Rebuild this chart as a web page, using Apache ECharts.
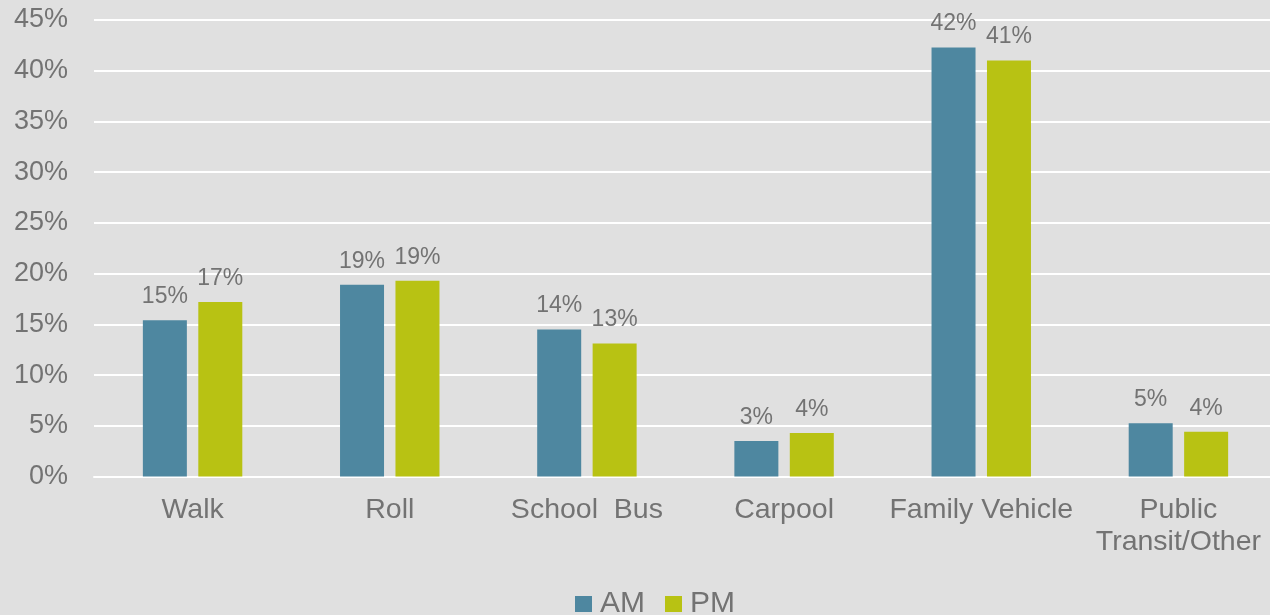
<!DOCTYPE html>
<html><head><meta charset="utf-8">
<script src="https://cdn.jsdelivr.net/npm/echarts@6/dist/echarts.min.js"></script>
<style>html,body{margin:0;padding:0;background:#e0e0e0}#c{width:1270px;height:615px}</style>
</head><body><div id="c"></div>
<script>
const categories = ['Walk', 'Roll', 'School  Bus', 'Carpool', 'Family Vehicle', 'Public\nTransit/Other'];
const amValues = [15.4, 18.9, 14.5, 3.5, 42.3, 5.25];
const pmValues = [17.2, 19.3, 13.1, 4.3, 41.0, 4.42];
const amLabels = ['15%', '19%', '14%', '3%', '42%', '5%'];
const pmLabels = ['17%', '19%', '13%', '4%', '41%', '4%'];
const yTicks = [0, 5, 10, 15, 20, 25, 30, 35, 40, 45];

const FONT = '"Liberation Sans", Arial, sans-serif';
const TXT = '#737373';
const chart = echarts.init(document.getElementById('c'), null, {renderer: 'canvas'});
chart.setOption({
  backgroundColor: '#e0e0e0',
  animation: false,
  textStyle: {fontFamily: FONT},
  grid: {left: 94, width: 1183, top: 20, bottom: 138.5, containLabel: false, outerBoundsMode: 'none'},
  legend: {
    data: ['AM', 'PM'], top: 584, left: 570,
    itemWidth: 17, itemHeight: 16, itemGap: 20,
    icon: 'rect',
    textStyle: {fontSize: 30, color: TXT, fontFamily: FONT, padding: [0, 0, 0, 3]}
  },
  xAxis: {
    type: 'category', data: categories,
    axisLine: {show: true, lineStyle: {color: '#ffffff', width: 2}},
    axisTick: {show: false},
    axisLabel: {fontSize: 28.5, color: TXT, fontFamily: FONT, margin: 18, lineHeight: 32, interval: 0}
  },
  yAxis: {
    type: 'value', min: 0, max: 45, interval: 5,
    axisLine: {show: false}, axisTick: {show: false},
    splitLine: {lineStyle: {color: '#ffffff', width: 2}},
    axisLabel: {fontSize: 27, color: TXT, fontFamily: FONT, margin: 26,
      formatter: v => yTicks.includes(v) ? v + '%' : ''}
  },
  series: [
    {name: 'AM', type: 'bar', data: amValues, barWidth: 44, barGap: '26%',
     itemStyle: {color: '#4e87a0'},
     label: {show: true, position: 'top', distance: 12, fontSize: 23, color: TXT, fontFamily: FONT,
       formatter: p => amLabels[p.dataIndex]}},
    {name: 'PM', type: 'bar', data: pmValues, barWidth: 44, barGap: '26%',
     itemStyle: {color: '#b8c213'},
     label: {show: true, position: 'top', distance: 12, fontSize: 23, color: TXT, fontFamily: FONT,
       formatter: p => pmLabels[p.dataIndex]}}
  ]
});
</script></body></html>
